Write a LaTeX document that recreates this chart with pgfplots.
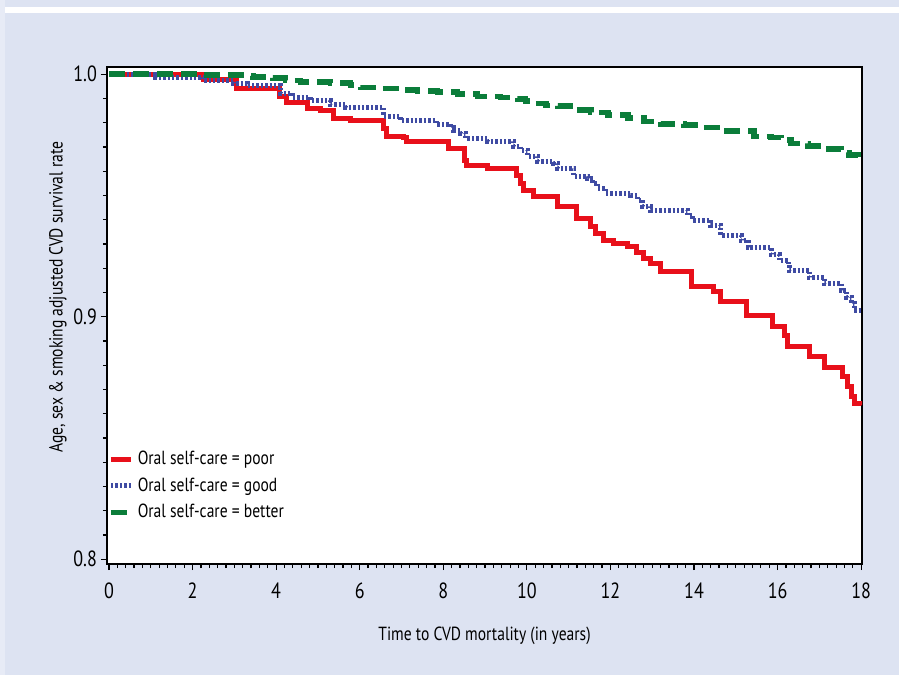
\documentclass[border=0pt]{standalone}
\usepackage{pgfplots}
\pgfplotsset{compat=1.18}
\usepackage{fontspec}
\setmainfont{PT Sans}[FakeStretch=0.82]

\definecolor{bgblue}{HTML}{DDE3F2}
\definecolor{edgeblue}{HTML}{E7EBF6}
\definecolor{poorred}{HTML}{E8101A}
\definecolor{goodblue}{HTML}{3F4BA3}
\definecolor{bettergreen}{HTML}{0B7D3A}

\begin{document}
\begin{tikzpicture}
% panel background (1px of the reference = 0.5pt)
\fill[bgblue] (-53.5pt,-55.5pt) rectangle (396pt,282pt);
\fill[edgeblue] (-53.5pt,-55.5pt) rectangle (-51.2pt,282pt);
\fill[white] (-51.2pt,275.5pt) rectangle (396pt,278.6pt);

\begin{axis}[
    at={(0,0)}, anchor=south west,
    scale only axis,
    width=377.5pt, height=248.5pt,
    xmin=-0.048, xmax=18.02,
    ymin=0.798, ymax=1.003,
    xtick={0,2,...,18},
    ytick={0.8,0.9,1.0},
    minor x tick num=9,
    minor y tick num=9,
    tick pos=left,
    tick align=outside,
    major tick length=3pt,
    minor tick length=2pt,
    every tick/.style={black, line width=0.6pt},
    axis line style={line width=0.9pt},
    axis background/.style={fill=white},
    /pgf/number format/assume math mode=true,
    ticklabel style={font=\fontsize{11}{13}\selectfont},
    xticklabel style={yshift=-3pt},
    yticklabel style={xshift=1.5pt, /pgf/number format/.cd, fixed, fixed zerofill, precision=1},
    xlabel={Time to CVD mortality (in years)},
    ylabel={Age, sex \& smoking adjusted CVD survival rate},
    label style={font=\fontsize{9.5}{11}\selectfont},
    xlabel style={at={(rel axis cs:0.5,-0.145)}, anchor=center},
    ylabel style={at={(rel axis cs:-0.065,0.537)}, anchor=center},
    legend style={draw=none, fill=none, at={(rel axis cs:0.001,0.157)}, anchor=west,
        font=\fontsize{9.5}{11}\selectfont, row sep=1pt, inner xsep=0pt},
    legend cell align=left,
    legend image code/.code={\draw[#1] (0pt,0pt) -- (10pt,0pt);},
]
% poor
\addplot[const plot, poorred, line width=2.5pt] coordinates {
(0,1.0) (2.253,0.9979) (3.044,0.9942) (4.075,0.9909) (4.243,0.9885) (4.746,0.9860)
(5.058,0.9852) (5.369,0.9819) (5.777,0.9810) (6.568,0.9777) (6.640,0.9744) (7.047,0.9740)
(7.119,0.9724) (8.126,0.9695) (8.509,0.9645) (8.557,0.9625) (9.060,0.9612) (9.755,0.9584)
(9.851,0.9551) (9.923,0.9522) (10.163,0.9497) (10.738,0.9456) (11.194,0.9406) (11.529,0.9373)
(11.649,0.9344) (11.841,0.9315) (12.081,0.9303) (12.416,0.9291) (12.632,0.9266) (12.800,0.9241)
(12.968,0.9221) (13.207,0.9188) (13.950,0.9126) (14.477,0.9105) (14.645,0.9064) (15.244,0.9006)
(15.868,0.8961) (16.155,0.8924) (16.227,0.8878) (16.755,0.8837) (17.114,0.8792) (17.546,0.8755)
(17.665,0.8713) (17.761,0.8672) (17.833,0.8643) (18.0,0.8635)
};
% good
\addplot[const plot, goodblue, line width=2.5pt, dash pattern=on 1.2pt off 1pt] coordinates {
(0,1.0) (1.103,0.9988) (2.253,0.9975) (2.972,0.9963) (3.308,0.9955) (4.099,0.9922)
(4.386,0.9905) (4.818,0.9893) (5.297,0.9876) (5.657,0.9864) (6.568,0.9827) (6.975,0.9810)
(7.838,0.9794) (8.173,0.9781) (8.245,0.9769) (8.413,0.9757) (8.533,0.9736) (9.060,0.9724)
(9.684,0.9703) (9.851,0.9687) (10.019,0.9662) (10.259,0.9641) (10.642,0.9633) (10.738,0.9612)
(11.122,0.9579) (11.457,0.9571) (11.577,0.9551) (11.697,0.9530) (11.889,0.9509) (12.488,0.9501)
(12.656,0.9480) (12.776,0.9456) (12.968,0.9439) (13.854,0.9419) (13.974,0.9398) (14.406,0.9377)
(14.645,0.9336) (15.125,0.9315) (15.292,0.9287) (15.844,0.9258) (16.036,0.9233) (16.251,0.9212)
(16.275,0.9192) (16.755,0.9163) (17.114,0.9138) (17.522,0.9109) (17.642,0.9080) (17.761,0.9056)
(17.833,0.9027) (18.0,0.9023)
};
% better
\addplot[const plot, bettergreen, line width=2.8pt, dash pattern=on 8pt off 4pt] coordinates {
(0,1.0) (2.253,0.9996) (3.308,0.9992) (3.452,0.9988) (3.931,0.9984) (4.219,0.9975)
(4.578,0.9967) (5.297,0.9963) (5.777,0.9955) (6.016,0.9946) (6.424,0.9942) (6.975,0.9934)
(7.383,0.9930) (7.862,0.9926) (8.341,0.9918) (8.821,0.9909) (9.372,0.9905) (9.779,0.9897)
(9.971,0.9889) (10.163,0.9880) (10.451,0.9872) (10.738,0.9868) (11.122,0.9852) (11.529,0.9843)
(11.937,0.9831) (12.416,0.9819) (12.800,0.9806) (13.207,0.9794) (13.758,0.9790) (14.166,0.9781)
(14.645,0.9765) (15.436,0.9744) (15.844,0.9740) (16.083,0.9728) (16.323,0.9715) (16.731,0.9703)
(17.114,0.9691) (17.522,0.9678) (17.713,0.9666) (17.929,0.9654) (18.0,0.9649)
};
\legend{Oral self-care = poor, Oral self-care = good, Oral self-care = better}
\end{axis}
\pgfresetboundingbox
\useasboundingbox (-53.5pt,-55.5pt) rectangle (396pt,282pt);
\end{tikzpicture}
\end{document}
